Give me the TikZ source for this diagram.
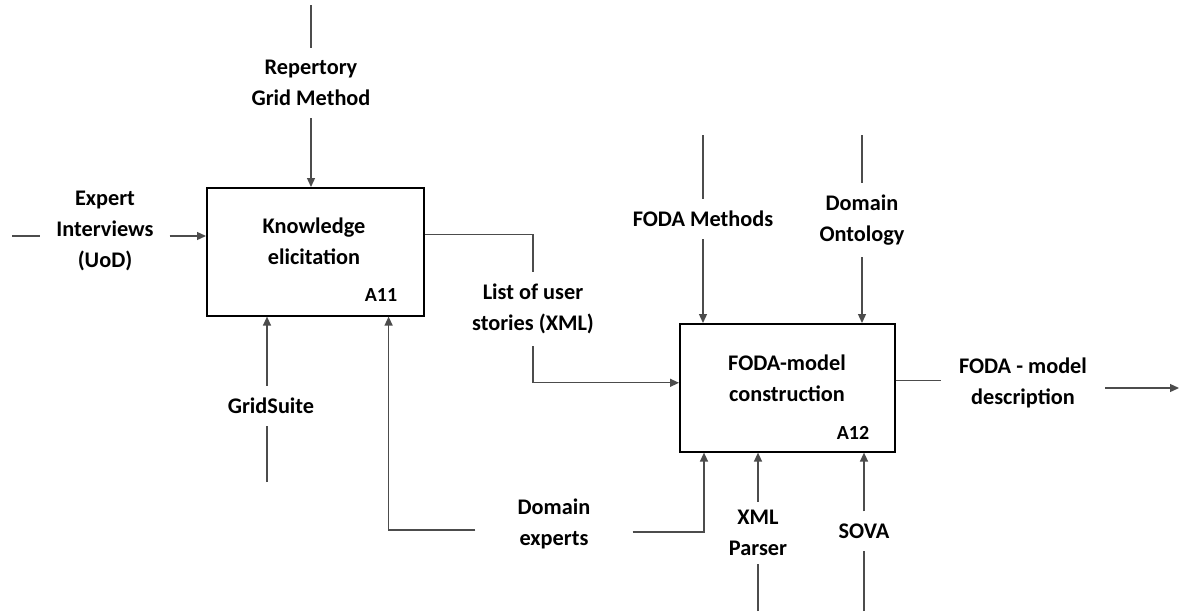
\documentclass[tikz,border=0pt]{standalone}
\usepackage{fontspec}
\setmainfont{Carlito}
\usetikzlibrary{arrows.meta}

\tikzset{
  box/.style={draw,line width=1.6pt,anchor=north west,minimum height=128pt},
  lbl/.style={font=\bfseries\fontsize{22.3}{31}\selectfont,align=center,inner sep=12pt},
  tag/.style={font=\bfseries\fontsize{20}{24}\selectfont,inner sep=0pt},
  flow/.style={draw=black!70,line width=1.3pt},
  >={Triangle[length=9pt,width=8pt]}
}

\begin{document}
\begin{tikzpicture}[x=1pt,y=-1pt]
\useasboundingbox (0,0) rectangle (1179,611);
\node [box,minimum width=217pt] (ke) at (206,187) {};
\node [box,minimum width=215pt] (fc) at (679,323) {};
\node [lbl,inner sep=0pt] (ketxt) at (314,241) {Knowledge\\elicitation};
\node [tag] (a11) at (381,295) {A11};
\node [lbl,inner sep=0pt] (fctxt) at (787,378) {FODA-model\\construction};
\node [tag] (a12) at (853,433) {A12};

\node [lbl] (rep) at (311,83) {Repertory\\Grid Method};
\node [lbl,inner xsep=16pt] (exp) at (105,231) {Expert\\Interviews\\(UoD)};
\node [lbl] (list) at (533,309) {List of user\\stories (XML)};
\node [lbl] (fm) at (703,219) {FODA Methods};
\node [lbl] (onto) at (862,220) {Domain\\Ontology};
\node [lbl,inner xsep=18pt] (out) at (1023,383) {FODA - model\\description};
\node [lbl] (grid) at (271,406) {GridSuite};
\node [lbl,inner xsep=42pt] (dex) at (554,524) {Domain\\experts};
\node [lbl,inner ysep=8pt] (xml) at (758,533) {XML\\Parser};
\node [lbl] (sova) at (864,531) {SOVA};

\coordinate (rtop) at (311,5);
\coordinate (eleft) at (12,236);
\coordinate (fmtop) at (703,135);
\coordinate (ontop) at (862,135);
\coordinate (outend) at (1179,388);
\coordinate (gbot) at (267,482);
\coordinate (xbot) at (758,611);
\coordinate (sbot) at (864,611);

% inputs and controls of A11
\draw [flow] (rtop) -- (rep);
\draw [flow,->] (rep) -- (rep |- ke.north);
\draw [flow] (eleft) -- (eleft -| exp.west);
\draw [flow,->] (exp.east |- eleft) -- (eleft -| ke.west);
\draw [flow] (gbot) -- (gbot |- grid.south);
\draw [flow,->] (gbot |- grid.north) -- (gbot |- ke.south);

% A11 to A12
\draw [flow] ([yshift=17pt]ke.east) -| (list.north);
\draw [flow,->] (list.south) |- ([yshift=5pt]fc.west);

% controls and mechanisms of A12
\draw [flow] (fmtop) -- (fm);
\draw [flow,->] (fm) -- (fm |- fc.north);
\draw [flow] (ontop) -- (onto);
\draw [flow,->] (onto) -- (onto |- fc.north);
\draw [flow,->] ([yshift=-6pt]dex.west) -| ([xshift=-36pt]ke.south east);
\draw [flow,->] ([yshift=-8pt]dex.east) -| ([xshift=25pt]fc.south west);
\draw [flow] (xbot) -- (xml);
\draw [flow,->] (xml) -- (xml |- fc.south);
\draw [flow] (sbot) -- (sova);
\draw [flow,->] (sova) -- (sova |- fc.south);

% output
\draw [flow] ([yshift=7pt]fc.east) -- ([yshift=7pt]fc.east -| out.west);
\draw [flow,->] (outend -| out.east) -- (outend);
\end{tikzpicture}
\end{document}
